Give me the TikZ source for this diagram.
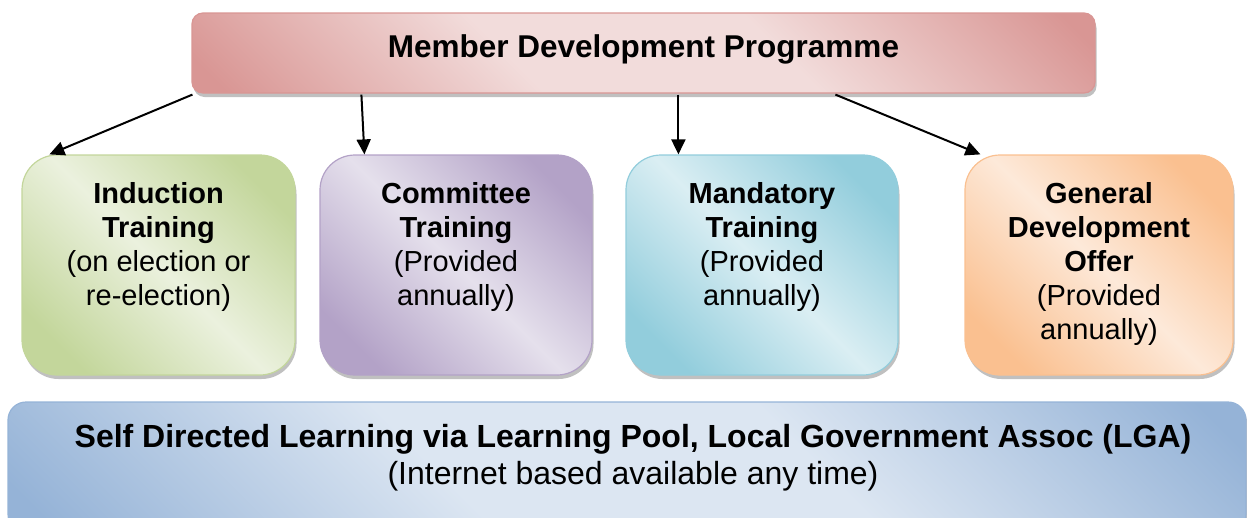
\documentclass[tikz,border=0pt]{standalone}
\usepackage{fontspec}
\setmainfont{Liberation Sans}
\usetikzlibrary{shadows,calc,arrows.meta}
\definecolor{redD}{HTML}{D99694}
\definecolor{redL}{HTML}{F2DCDB}
\definecolor{greenD}{HTML}{C3D69B}
\definecolor{greenL}{HTML}{EBF1DE}
\definecolor{purpleD}{HTML}{B3A2C7}
\definecolor{purpleL}{HTML}{E5E0EC}
\definecolor{aquaD}{HTML}{92CDDC}
\definecolor{aquaL}{HTML}{DAEEF3}
\definecolor{orangeD}{HTML}{FAC090}
\definecolor{orangeL}{HTML}{FDE9D9}
\definecolor{blueD}{HTML}{95B3D7}
\definecolor{blueL}{HTML}{DCE6F2}
\colorlet{shD}{gray}
\colorlet{shL}{white}
\pgfdeclareverticalshading[shD,shL]{diagsh}{100bp}{color(0bp)=(shD); color(17bp)=(shD); color(40bp)=(shL); color(60bp)=(shL); color(83bp)=(shD); color(100bp)=(shD)}
\pgfdeclareverticalshading[shD,shL]{diagsq}{100bp}{color(0bp)=(shD); color(24bp)=(shD); color(50bp)=(shL); color(76bp)=(shD); color(100bp)=(shD)}
\tikzset{
  box/.style={draw=#1D, line width=1.2pt,
    /utils/exec={\colorlet{shD}{#1D}\colorlet{shL}{#1L}},
    shade, shading=diagsq, shading angle=-45, inner sep=0pt,
    drop shadow={shadow xshift=1.5pt, shadow yshift=-4pt, opacity=0.45, fill=black!55}},
  widebox/.style={shading=diagsh},
  arr/.style={line width=2pt, -{Triangle[length=15pt,width=14pt]}},
  boxtxt/.style={align=center, anchor=north, inner sep=0pt, font=\fontsize{29}{34}\selectfont},
}
\begin{document}
\begin{tikzpicture}[x=1pt,y=-1pt]
\useasboundingbox (0,0) rectangle (1247,517);
% top box
\node[box=red, widebox, rounded corners=11pt, minimum width=903pt, minimum height=80pt] (mdp) at (643.5,53) {};
\node[anchor=base, inner sep=0pt, font=\fontsize{31.5}{36}\selectfont\bfseries] (mdpt) at (643.5,57) {Member Development Programme};
% four boxes
\node[box=green, rounded corners=35pt, minimum width=273pt, minimum height=220pt] (ind) at (158.5,265) {};
\node[box=purple, rounded corners=35pt, minimum width=272pt, minimum height=220pt] (com) at (456,265) {};
\node[box=aqua, rounded corners=35pt, minimum width=272pt, minimum height=220pt] (man) at (762,265) {};
\node[box=orange, rounded corners=35pt, minimum width=268pt, minimum height=220pt] (gen) at (1099,265) {};
\node[boxtxt] (indt) at (158.5,182.5) {\textbf{Induction}\\\textbf{Training}\\(on election or\\re-election)};
\node[boxtxt] (comt) at (456,182.5) {\textbf{Committee}\\\textbf{Training}\\(Provided\\annually)};
\node[boxtxt] (mant) at (762,182.5) {\textbf{Mandatory}\\\textbf{Training}\\(Provided\\annually)};
\node[boxtxt] (gent) at (1099,182.5) {\textbf{General}\\\textbf{Development}\\\textbf{Offer}\\(Provided\\annually)};
% bottom box
\node[box=blue, widebox, rounded corners=18pt, minimum width=1238pt, minimum height=130pt] (sdl) at (627,467) {};
\node[align=center, anchor=north, inner sep=0pt, font=\fontsize{32}{37}\selectfont] (sdlt) at (633,424)
  {\textbf{Self Directed Learning via Learning Pool, Local Government Assoc (LGA)}\\(Internet based available any time)};
% arrows
\coordinate (s1) at ($(mdp.south west)+(1,1)$);
\coordinate (e1) at ($(ind.north west)+(28,0)$);
\coordinate (s2) at ($(mdp.south west)+(170,1)$);
\coordinate (e2) at ($(com.north west)+(45,0)$);
\coordinate (s3) at ($(mdp.south west)+(487,1)$);
\coordinate (e3) at ($(man.north west)+(53,0)$);
\coordinate (s4) at ($(mdp.south west)+(644,1)$);
\coordinate (e4) at ($(gen.north west)+(16,0)$);
\draw[arr] (s1) -- (e1);
\draw[arr] (s2) -- (e2);
\draw[arr] (s3) -- (e3);
\draw[arr] (s4) -- (e4);
\end{tikzpicture}
\end{document}
